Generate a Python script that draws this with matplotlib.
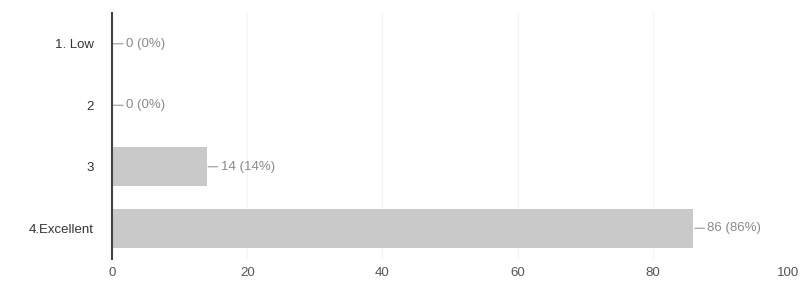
import matplotlib
matplotlib.use("Agg")
import matplotlib.pyplot as plt

plt.rcParams["font.family"] = ["Liberation Sans", "DejaVu Sans"]

categories = ["1. Low", "2", "3", "4.Excellent"]
counts = [0, 0, 14, 86]
percents = [0, 0, 14, 86]
xticks = [0, 20, 40, 60, 80, 100]

fig = plt.figure(figsize=(8.05, 2.84), dpi=100)
ax = fig.add_axes([112/805, 25/284, (788-112)/805, (259-13)/284])

ypos = list(range(len(categories)))
ax.barh(ypos, counts, height=0.64, color="#c9c9c9", edgecolor="none", zorder=2)
for i, (c, p) in enumerate(zip(counts, percents)):
    ax.annotate(f"{c} ({p}%)", xy=(c, i), xytext=(10, 0), textcoords="offset points",
                va="center", ha="left", fontsize=9.5, color="#8a8a8a",
                arrowprops=dict(arrowstyle="-", color="#999999", lw=0.8,
                                shrinkA=0, shrinkB=1))

ax.set_xlim(0, 100)
ax.set_ylim(3.5, -0.5)
ax.set_yticks(ypos)
ax.set_yticklabels(categories, fontsize=9.5, color="#333333")
ax.set_xticks(xticks)
ax.set_xticklabels([str(t) for t in xticks], fontsize=9.5, color="#555555")
ax.tick_params(axis="x", length=0, pad=6)
ax.tick_params(axis="y", length=0, pad=13)
ax.xaxis.grid(True, color="#f4f4f4", lw=0.8, zorder=0)
for s in ["top", "right", "bottom"]:
    ax.spines[s].set_visible(False)
ax.spines["left"].set_color("#444444")
ax.spines["left"].set_linewidth(1.5)
ax.spines["left"].set_zorder(3)

fig.savefig("out.png", dpi=100)
